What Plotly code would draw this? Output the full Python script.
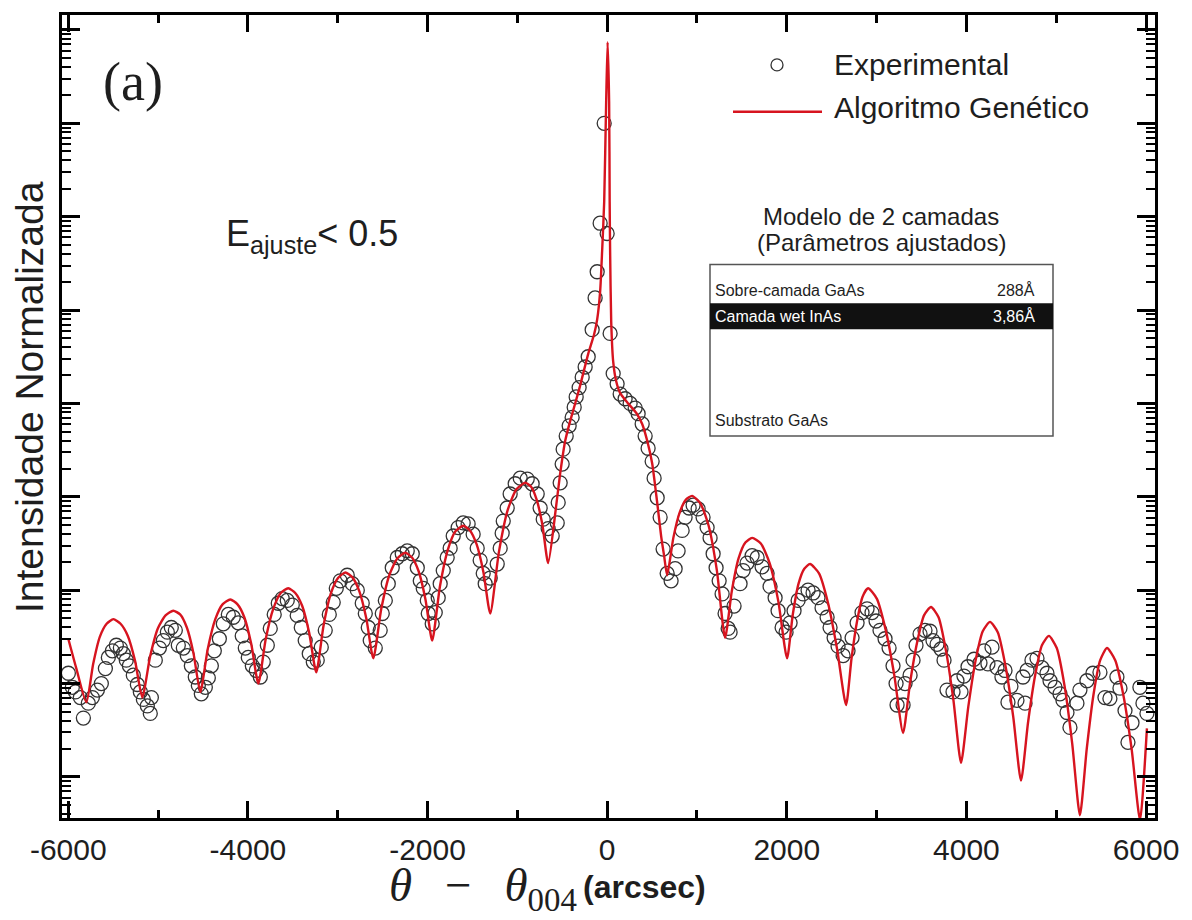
import plotly.graph_objects as go

# Rocking curve around the (004) reflection: angular offset in arcsec and
# log10 of the normalised intensity.
exp_theta = [
    -5999, -5955, -5921, -5866, -5832, -5777, -5732, -5676, -5632, -5587,
    -5554, -5509, -5465, -5420, -5387, -5354, -5320, -5276, -5231, -5198,
    -5164, -5120, -5087, -5075, -5031, -4986, -4942, -4897, -4853, -4808,
    -4775, -4719, -4675, -4630, -4586, -4552, -4519, -4474, -4441, -4407,
    -4374, -4318, -4274, -4218, -4163, -4107, -4063, -4029, -3996, -3951,
    -3907, -3862, -3829, -3784, -3751, -3707, -3662, -3618, -3562, -3506,
    -3451, -3406, -3362, -3317, -3272, -3228, -3183, -3139, -3094, -3050,
    -3016, -2972, -2894, -2838, -2782, -2727, -2693, -2660, -2638, -2582,
    -2527, -2504, -2470, -2437, -2393, -2337, -2282, -2226, -2170, -2114,
    -2081, -2048, -2003, -1992, -1948, -1914, -1881, -1859, -1825, -1781,
    -1748, -1714, -1659, -1603, -1548, -1492, -1447, -1414, -1380, -1358,
    -1302, -1224, -1191, -1169, -1157, -1113, -1080, -1024, -968, -890,
    -835, -779, -746, -712, -657, -612, -556, -545, -523, -501,
    -490, -456, -423, -390, -367, -345, -312, -278, -245, -211,
    -167, -134, -111, -78, -33, 0, 33, 67, 111, 145,
    200, 256, 312, 345, 390, 423, 456, 501, 523, 557,
    590, 623, 668, 712, 757, 790, 835, 868, 913, 957,
    1013, 1068, 1113, 1146, 1180, 1213, 1247, 1280, 1313, 1347,
    1369, 1413, 1480, 1514, 1558, 1614, 1670, 1725, 1781, 1814,
    1870, 1903, 1948, 1992, 2037, 2081, 2126, 2182, 2237, 2293,
    2348, 2393, 2449, 2482, 2527, 2571, 2627, 2682, 2727, 2783,
    2838, 2894, 2949, 2994, 3038, 3094, 3139, 3183, 3217, 3228,
    3295, 3317, 3373, 3406, 3439, 3484, 3539, 3595, 3628, 3673,
    3717, 3751, 3784, 3851, 3895, 3940, 3973, 4018, 4085, 4151,
    4196, 4240, 4285, 4341, 4396, 4430, 4463, 4496, 4563, 4630,
    4653, 4675, 4730, 4786, 4841, 4897, 4931, 4986, 5042, 5075,
    5120, 5153, 5231, 5264, 5342, 5409, 5487, 5543, 5598, 5676,
    5710, 5766, 5799, 5844, 5932, 5966, 6010,
]
exp_log_int = [
    -6.89, -7.04, -7.09, -7.15, -7.37, -7.21, -7.15, -7.07, -7.00, -6.84,
    -6.72, -6.65, -6.59, -6.62, -6.68, -6.75, -6.81, -6.91, -7.01, -7.09,
    -7.17, -7.24, -7.32, -7.15, -6.75, -6.62, -6.54, -6.45, -6.40, -6.43,
    -6.59, -6.62, -6.70, -6.81, -6.93, -7.02, -7.11, -7.04, -6.94, -6.81,
    -6.65, -6.52, -6.36, -6.26, -6.29, -6.35, -6.49, -6.62, -6.72, -6.81,
    -6.86, -6.93, -6.77, -6.59, -6.41, -6.26, -6.14, -6.09, -6.11, -6.16,
    -6.27, -6.40, -6.54, -6.68, -6.77, -6.75, -6.61, -6.43, -6.26, -6.13,
    -5.98, -5.90, -5.84, -5.93, -6.00, -6.14, -6.25, -6.40, -6.54, -6.62,
    -6.43, -6.25, -6.11, -5.93, -5.76, -5.65, -5.61, -5.58, -5.61, -5.76,
    -5.90, -5.98, -6.11, -6.25, -6.36, -6.24, -6.08, -5.93, -5.79, -5.65,
    -5.55, -5.42, -5.33, -5.28, -5.29, -5.40, -5.55, -5.68, -5.82, -5.93,
    -5.87, -5.72, -5.55, -5.39, -5.26, -5.12, -4.97, -4.86, -4.80, -4.81,
    -4.86, -4.97, -5.12, -5.24, -5.34, -5.42, -5.28, -5.06, -4.85, -4.65,
    -4.49, -4.35, -4.24, -4.15, -4.04, -3.93, -3.83, -3.72, -3.61, -3.50,
    -3.21, -2.87, -2.59, -2.07, -1.00, -2.18, -3.25, -3.68, -3.79, -3.90,
    -3.95, -4.00, -4.05, -4.11, -4.22, -4.35, -4.48, -4.62, -4.80, -5.01,
    -5.22, -5.56, -5.82, -5.90, -5.77, -5.58, -5.36, -5.22, -5.12, -5.09,
    -5.13, -5.22, -5.33, -5.44, -5.61, -5.76, -5.90, -6.04, -6.25, -6.41,
    -6.45, -6.17, -5.93, -5.79, -5.71, -5.63, -5.65, -5.75, -5.82, -5.96,
    -6.08, -6.22, -6.40, -6.45, -6.35, -6.22, -6.11, -6.04, -6.00, -6.03,
    -6.08, -6.19, -6.29, -6.40, -6.51, -6.60, -6.70, -6.65, -6.51, -6.35,
    -6.24, -6.20, -6.24, -6.33, -6.43, -6.52, -6.62, -6.81, -7.00, -7.23,
    -7.23, -7.00, -6.91, -6.75, -6.59, -6.47, -6.43, -6.44, -6.54, -6.58,
    -6.63, -6.75, -7.07, -7.09, -6.97, -7.09, -6.92, -6.82, -6.74, -6.78,
    -6.65, -6.79, -6.61, -6.83, -6.93, -6.86, -7.20, -7.03, -7.18, -6.93,
    -7.21, -6.86, -6.75, -6.73, -6.83, -6.89, -6.97, -7.04, -7.11, -7.18,
    -7.31, -7.47, -7.21, -7.07, -6.97, -6.89, -6.88, -7.15, -7.16, -6.93,
    -7.05, -7.29, -7.63, -7.42, -7.04, -7.21, -7.32,
]

# Simulated curve of the fitted two-layer model (genetic algorithm)
fit_theta = [
    -6000, -5910, -5799, -5723, -5649, -5573, -5498, -5418, -5337, -5256,
    -5176, -5089, -5003, -4917, -4831, -4755, -4680, -4605, -4530, -4447,
    -4363, -4280, -4196, -4118, -4040, -3962, -3884, -3801, -3718, -3634,
    -3551, -3473, -3395, -3317, -3239, -3158, -3078, -2997, -2916, -2838,
    -2760, -2682, -2604, -2515, -2426, -2337, -2248, -2173, -2098, -2023,
    -1948, -1862, -1775, -1689, -1603, -1528, -1453, -1377, -1302, -1205,
    -1107, -1010, -913, -849, -785, -721, -657, -568, -523, -467,
    -412, -312, -211, -145, -111, -78, -56, -33, -11, 5,
    22, 28, 33, 45, 67, 100, 145, 234, 323, 390,
    446, 501, 534, 568, 601, 634, 668, 737, 807, 877,
    946, 1038, 1130, 1222, 1313, 1388, 1463, 1539, 1614, 1711,
    1809, 1906, 2003, 2067, 2131, 2195, 2259, 2359, 2460, 2560,
    2660, 2721, 2783, 2844, 2905, 3002, 3100, 3197, 3295, 3373,
    3451, 3528, 3606, 3690, 3773, 3856, 3940, 4021, 4101, 4182,
    4263, 4349, 4435, 4522, 4608, 4686, 4764, 4841, 4919, 5006,
    5092, 5178, 5264, 5340, 5415, 5490, 5565, 5657, 5749, 5841,
    5933, 6010,
]
fit_log_int = [
    -6.52, -6.84, -7.20, -6.79, -6.50, -6.36, -6.31, -6.36, -6.49, -6.76,
    -7.15, -6.71, -6.41, -6.27, -6.22, -6.26, -6.40, -6.68, -7.09, -6.63,
    -6.31, -6.15, -6.10, -6.15, -6.29, -6.58, -7.00, -6.52, -6.20, -6.03,
    -5.98, -6.03, -6.17, -6.46, -6.88, -6.38, -6.04, -5.87, -5.81, -5.86,
    -6.01, -6.30, -6.73, -6.20, -5.84, -5.66, -5.60, -5.65, -5.80, -6.10,
    -6.54, -5.96, -5.57, -5.37, -5.31, -5.36, -5.51, -5.81, -6.25, -5.59,
    -5.14, -4.92, -4.85, -4.89, -5.03, -5.30, -5.71, -5.10, -4.75, -4.40,
    -4.19, -3.85, -3.47, -3.26, -3.10, -2.80, -2.37, -1.84, -0.77, -0.13,
    -0.77, -1.84, -2.37, -3.12, -3.55, -3.76, -3.89, -4.00, -4.10, -4.22,
    -4.40, -4.64, -4.88, -5.15, -5.42, -5.63, -5.84, -5.44, -5.17, -5.03,
    -4.99, -5.07, -5.31, -5.79, -6.51, -6.01, -5.66, -5.49, -5.44, -5.50,
    -5.71, -6.12, -6.73, -6.26, -5.93, -5.77, -5.72, -5.82, -6.14, -6.63,
    -7.23, -6.73, -6.33, -6.07, -5.98, -6.09, -6.42, -6.91, -7.53, -6.99,
    -6.56, -6.27, -6.18, -6.29, -6.65, -7.18, -7.85, -7.25, -6.76, -6.44,
    -6.34, -6.45, -6.81, -7.36, -8.04, -7.42, -6.92, -6.59, -6.49, -6.62,
    -7.02, -7.64, -8.41, -7.70, -7.12, -6.75, -6.62, -6.75, -7.13, -7.71,
    -8.46, -7.48,
]

x_major = [-6000, -4000, -2000, 0, 2000, 4000, 6000]
x_major_text = ["-6000", "-4000", "-2000", "0", "2000", "4000", "6000"]
x_minor = [-5000, -3000, -1000, 1000, 3000, 5000]
y_decades = [-8, -7, -6, -5, -4, -3, -2, -1, 0]

legend_names = ["Experimental", "Algoritmo Genético"]
model_title = ["Modelo de 2 camadas", "(Parâmetros ajustados)"]
layer_names = ["Sobre-camada GaAs", "Camada wet InAs", "Substrato GaAs"]
layer_values = ["288Å", "3,86Å", ""]

exp_int = [10 ** v for v in exp_log_int]
fit_int = [10 ** v for v in fit_log_int]

W, H = 1192, 920
ML, MR, MT, MB = 62, 37, 13, 102
PW, PH = W - ML - MR, H - MT - MB


def fx(px):
    return (px - ML) / PW


def fy(py):
    return (H - MB - py) / PH


SANS = "Liberation Sans, Arial, Helvetica, sans-serif"
SERIF = "Liberation Serif, Times New Roman, serif"
INK = "#1e1e1e"
RED = "#d7141f"

fig = go.Figure()
fig.add_trace(go.Scatter(
    x=exp_theta, y=exp_int, mode="markers", name=legend_names[0],
    marker=dict(symbol="circle-open", size=14, color="#333333",
                line=dict(width=1.3, color="#333333")),
    showlegend=False,
))
fig.add_trace(go.Scatter(
    x=fit_theta, y=fit_int, mode="lines", name=legend_names[1],
    line=dict(color=RED, width=2.4, shape="spline", smoothing=0.6),
    showlegend=False,
))

minor_y = [k * 10.0 ** d for d in range(-9, 0) for k in range(2, 10)]

fig.update_xaxes(
    range=[-6070, 6100], showgrid=False, zeroline=False,
    showline=True, linewidth=3, linecolor="black", mirror="allticks",
    ticks="inside", ticklen=17, tickwidth=2.5, tickcolor="black",
    tickmode="array", tickvals=x_major, ticktext=x_major_text,
    tickfont=dict(family=SANS, size=30, color=INK), ticklabelstandoff=3,
    minor=dict(tickmode="array", tickvals=x_minor, ticks="inside",
               ticklen=8, tickwidth=2.5, tickcolor="black", showgrid=False),
)
fig.update_yaxes(
    type="log", range=[-8.44, 0.16], showgrid=False, zeroline=False,
    showline=True, linewidth=3, linecolor="black", mirror="allticks",
    ticks="inside", ticklen=18, tickwidth=2.5, tickcolor="black",
    tickmode="array", tickvals=[10.0 ** d for d in y_decades],
    showticklabels=False,
    minor=dict(tickmode="array", tickvals=minor_y, ticks="inside",
               ticklen=9, tickwidth=2, tickcolor="black", showgrid=False),
)

annotations = []
shapes = []

# axis titles
annotations.append(dict(
    text="Intensidade Normalizada", textangle=-90, x=fx(29), y=fy(396),
    xref="paper", yref="paper", xanchor="center", yanchor="middle",
    showarrow=False, font=dict(family=SANS, size=39, color=INK)))
annotations.append(dict(
    text="<i>θ</i>\u2002\u2009−\u2002\u2009<i>θ</i><sub>004</sub>",
    x=fx(579), y=fy(889),
    xref="paper", yref="paper", xanchor="right", yanchor="middle",
    showarrow=False, font=dict(family=SERIF, size=47, color=INK)))
annotations.append(dict(
    text="<b>(arcsec)</b>", x=fx(581), y=fy(887),
    xref="paper", yref="paper", xanchor="left", yanchor="middle",
    showarrow=False, font=dict(family=SANS, size=32, color=INK)))

# panel label and fit quality
annotations.append(dict(
    text="(a)", x=fx(133), y=fy(80), xref="paper", yref="paper",
    xanchor="center", yanchor="middle", showarrow=False,
    font=dict(family=SERIF, size=54, color=INK)))
annotations.append(dict(
    text="E<sub>ajuste</sub>&lt; 0.5", x=fx(224), y=fy(235),
    xref="paper", yref="paper", xanchor="left", yanchor="middle",
    showarrow=False, font=dict(family=SANS, size=36, color=INK)))

# legend
shapes.append(dict(type="circle", xref="paper", yref="paper",
                   x0=fx(771), x1=fx(783), y0=fy(69), y1=fy(57),
                   line=dict(color="#333333", width=1.3)))
shapes.append(dict(type="line", xref="paper", yref="paper",
                   x0=fx(733), x1=fx(822), y0=fy(110), y1=fy(110),
                   line=dict(color=RED, width=2.4)))
for name, yc in zip(legend_names, [63, 106]):
    annotations.append(dict(
        text=name, x=fx(832), y=fy(yc), xref="paper", yref="paper",
        xanchor="left", yanchor="middle", showarrow=False,
        font=dict(family=SANS, size=30, color=INK)))

# fitted layer model table
for line, yc in zip(model_title, [215, 241]):
    annotations.append(dict(
        text=line, x=fx(881), y=fy(yc), xref="paper", yref="paper",
        xanchor="center", yanchor="middle", showarrow=False,
        font=dict(family=SANS, size=24, color=INK)))
shapes.append(dict(type="rect", xref="paper", yref="paper",
                   x0=fx(710), x1=fx(1053), y0=fy(435), y1=fy(263),
                   line=dict(color="#555555", width=1.5), fillcolor="white",
                   layer="below"))
shapes.append(dict(type="rect", xref="paper", yref="paper",
                   x0=fx(710), x1=fx(1053), y0=fy(328), y1=fy(302),
                   line=dict(width=0), fillcolor="#111111", layer="below"))
for name, val, yc, col in zip(layer_names, layer_values, [289, 315, 420],
                              [INK, "white", INK]):
    annotations.append(dict(
        text=name, x=fx(713), y=fy(yc), xref="paper", yref="paper",
        xanchor="left", yanchor="middle", showarrow=False,
        font=dict(family=SANS, size=16, color=col)))
    if val:
        annotations.append(dict(
            text=val, x=fx(1037), y=fy(yc), xref="paper", yref="paper",
            xanchor="right", yanchor="middle", showarrow=False,
            font=dict(family=SANS, size=16, color=col)))

fig.update_layout(
    width=W, height=H, autosize=False,
    margin=dict(l=ML, r=MR, t=MT, b=MB, pad=0),
    paper_bgcolor="white", plot_bgcolor="white",
    annotations=annotations, shapes=shapes, showlegend=False,
)

fig.write_html("out.html", config={"displayModeBar": False})
